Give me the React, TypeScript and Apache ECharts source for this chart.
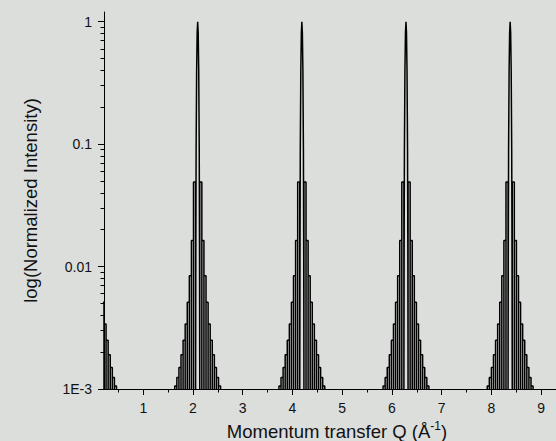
import React, { useEffect, useRef } from "react";
import * as echarts from "echarts";

// Bragg peak positions (Q, 1/Å); the Q=0 peak only shows its outer fringes
const peakCenters = [0, 2.094, 4.189, 6.283, 8.378];
// spacing between fringe minima (Q units)
const fringeSpacing = 0.0419;
// central lobe profile: offsets in fringe-spacing units and normalized intensity
const mainLobeOffsets = [-1, -0.9, -0.75, -0.5, -0.25, 0, 0.25, 0.5, 0.75, 0.9, 1];
const mainLobeIntensity = [0.001, 0.012, 0.09, 0.4, 0.81, 1, 0.81, 0.4, 0.09, 0.012, 0.001];
// heights of the side fringes, 1st .. 10th order
const sideFringeIntensity = [0.049, 0.0163, 0.0084, 0.0051, 0.0034, 0.0025, 0.0019, 0.0015, 0.00124, 0.00106];

const xMajorTicks = [1, 2, 3, 4, 5, 6, 7, 8, 9];
const xMinorTicks = [0.5, 1.5, 2.5, 3.5, 4.5, 5.5, 6.5, 7.5, 8.5];
const yMajorTicks = [0.001, 0.01, 0.1, 1];
const yMajorLabels = ["1E-3", "0.01", "0.1", "1"];
const yMinorTicks = [
  0.002, 0.003, 0.004, 0.005, 0.006, 0.007, 0.008, 0.009,
  0.02, 0.03, 0.04, 0.05, 0.06, 0.07, 0.08, 0.09,
  0.2, 0.3, 0.4, 0.5, 0.6, 0.7, 0.8, 0.9,
];

const Y_MIN = 0.001;
const Y_MAX = 1.2;
const X_MIN = 0.21;
const X_MAX = 9.3;
const FONT = "'Liberation Sans', Arial, sans-serif";

function peakCurve(c: number): number[][] {
  const pts: number[][] = [];
  const s = fringeSpacing;
  for (let k = sideFringeIntensity.length; k >= 1; k--) {
    const h = sideFringeIntensity[k - 1];
    const x0 = c - (k + 1) * s;
    const x1 = c - k * s;
    pts.push([x0, Y_MIN], [x0, h], [x1, h], [x1, Y_MIN]);
  }
  mainLobeOffsets.forEach((o, i) => pts.push([c + o * s, mainLobeIntensity[i]]));
  for (let k = 1; k <= sideFringeIntensity.length; k++) {
    const h = sideFringeIntensity[k - 1];
    const x0 = c + k * s;
    const x1 = c + (k + 1) * s;
    pts.push([x0, Y_MIN], [x0, h], [x1, h], [x1, Y_MIN]);
  }
  return pts;
}

export default function App() {
  const ref = useRef<HTMLDivElement>(null);
  useEffect(() => {
    if (!ref.current) return;
    const chart = echarts.init(ref.current, undefined, { renderer: "svg" });
    const textColor = "#111";
    chart.setOption({
      animation: false,
      backgroundColor: "transparent",
      grid: { left: 104, right: 0, top: 12, bottom: 52, containLabel: false, outerBoundsMode: "none" },
      xAxis: [
        {
          type: "value",
          min: X_MIN,
          max: X_MAX,
          position: "bottom",
          axisLine: { show: true, onZero: false, lineStyle: { color: "#000", width: 1 } },
          axisTick: { show: true, inside: false, length: 6, customValues: xMajorTicks, lineStyle: { color: "#000" } },
          axisLabel: { customValues: xMajorTicks, margin: 12, fontSize: 14, color: textColor, fontFamily: FONT },
          splitLine: { show: false },
          name: "Momentum transfer Q (Å{sup|-1})",
          nameLocation: "middle",
          nameGap: 28,
          nameTextStyle: {
            fontSize: 18.5,
            color: textColor,
            fontFamily: FONT,
            padding: [0, 0, 0, 14],
            rich: { sup: { fontSize: 12, fontFamily: FONT, color: textColor, padding: [0, 0, 12, 0] } },
          },
        },
        {
          type: "value",
          min: X_MIN,
          max: X_MAX,
          position: "bottom",
          axisLine: { show: false, onZero: false },
          axisTick: { show: true, inside: false, length: 3.5, customValues: xMinorTicks, lineStyle: { color: "#000" } },
          axisLabel: { show: false },
          splitLine: { show: false },
        },
      ],
      yAxis: [
        {
          type: "log",
          logBase: 10,
          min: Y_MIN,
          max: Y_MAX,
          position: "left",
          axisLine: { show: true, onZero: false, lineStyle: { color: "#000", width: 1 } },
          axisTick: { show: true, inside: false, length: 6, customValues: yMajorTicks, lineStyle: { color: "#000" } },
          axisLabel: {
            customValues: yMajorTicks,
            margin: 12,
            fontSize: 14,
            color: textColor,
            fontFamily: FONT,
            formatter: (v: number) => {
              const i = yMajorTicks.findIndex((t) => Math.abs(Math.log10(t) - Math.log10(v)) < 1e-6);
              return i >= 0 ? yMajorLabels[i] : "";
            },
          },
          splitLine: { show: false },
          minorTick: { show: false },
          name: "log(Normalized Intensity)",
          nameLocation: "middle",
          nameGap: 64,
          nameTextStyle: { fontSize: 18.5, color: textColor, fontFamily: FONT },
        },
        {
          type: "log",
          logBase: 10,
          min: Y_MIN,
          max: Y_MAX,
          position: "left",
          axisLine: { show: false, onZero: false },
          axisTick: { show: true, inside: false, length: 3.5, customValues: yMinorTicks, lineStyle: { color: "#000" } },
          axisLabel: { show: false },
          splitLine: { show: false },
        },
      ],
      series: peakCenters.map((c) => ({
        type: "line",
        xAxisIndex: 0,
        yAxisIndex: 0,
        data: peakCurve(c),
        showSymbol: false,
        symbol: "none",
        clip: true,
        lineStyle: { color: "#000", width: 1.5 },
        silent: true,
      })),
    });
    return () => chart.dispose();
  }, []);
  return (
    <div
      style={{ position: "absolute", left: 0, top: 0, width: 556, height: 441, background: "#dcdedc" }}
    >
      <div ref={ref} style={{ width: 556, height: 441 }} />
    </div>
  );
}
